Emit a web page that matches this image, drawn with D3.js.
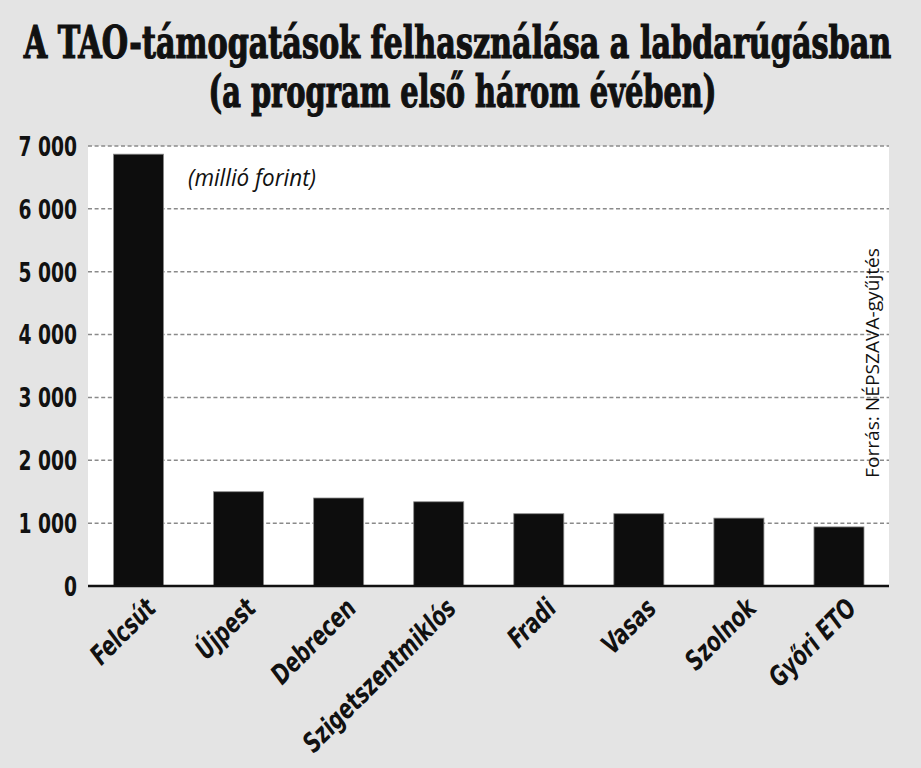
<!DOCTYPE html>
<html>
<head>
<meta charset="utf-8">
<script src="https://cdn.jsdelivr.net/npm/d3@7"></script>
<style>
  html, body { margin: 0; padding: 0; background: #e4e4e4; }
  svg { display: block; }
</style>
</head>
<body>
<svg id="chart" width="921" height="768"></svg>
<script>
const categories = ["Felcsút", "Újpest", "Debrecen", "Szigetszentmiklós", "Fradi", "Vasas", "Szolnok", "Győri ETO"];
const values = [6870, 1500, 1400, 1340, 1150, 1150, 1080, 940];
const yTicks = [0, 1000, 2000, 3000, 4000, 5000, 6000, 7000];
const yTickLabels = ["0", "1 000", "2 000", "3 000", "4 000", "5 000", "6 000", "7 000"];
const titleLines = ["A TAO-támogatások felhasználása a labdarúgásban", "(a program első három évében)"];
const unitLabel = "(millió forint)";
const sourceLabel = "Forrás: NÉPSZAVA-gyűjtés";

const W = 921, H = 768;
const plot = { left: 88, right: 889, top: 146, bottom: 586 };
const svg = d3.select("#chart");

svg.append("rect").attr("width", W).attr("height", H).attr("fill", "#e4e4e4");

svg.append("rect")
  .attr("x", plot.left).attr("y", plot.top)
  .attr("width", plot.right - plot.left).attr("height", plot.bottom - plot.top)
  .attr("fill", "#ffffff");

const x = d3.scaleBand().domain(categories).range([plot.left + 0.5, plot.right]).paddingInner(0.5).paddingOuter(0.25);
const y = d3.scaleLinear().domain([0, 7000]).range([plot.bottom, plot.top]);

// gridlines
svg.append("g").selectAll("line").data(yTicks.filter(d => d > 0)).join("line")
  .attr("x1", plot.left).attr("x2", plot.right)
  .attr("y1", d => y(d)).attr("y2", d => y(d))
  .attr("stroke", "#8a8a8a").attr("stroke-width", 1.5).attr("stroke-dasharray", "4,2.6");

// bars
svg.append("g").selectAll("rect").data(values).join("rect")
  .attr("x", (d, i) => x(categories[i]))
  .attr("y", d => y(d))
  .attr("width", x.bandwidth())
  .attr("height", d => y(0) - y(d))
  .attr("fill", "#0d0d0d")
  .attr("stroke", "#8a8a8a").attr("stroke-width", 0.8);

// baseline
svg.append("line")
  .attr("x1", plot.left).attr("x2", plot.right)
  .attr("y1", y(0)).attr("y2", y(0))
  .attr("stroke", "#111").attr("stroke-width", 2.6);

// y axis
const yAxis = d3.axisLeft(y).tickValues(yTicks).tickSize(0).tickPadding(0)
  .tickFormat((d, i) => yTickLabels[i]);
const yg = svg.append("g").attr("transform", `translate(${plot.left - 11},0)`).call(yAxis);
yg.select(".domain").remove();
yg.selectAll("text")
  .attr("font-family", "'DejaVu Sans Condensed', 'DejaVu Sans', sans-serif")
  .attr("font-weight", "bold")
  .attr("font-size", 26)
  .attr("fill", "#111")
  .attr("x", 0)
  .attr("dy", "0.36em")
  .attr("transform", "scale(0.8,1)");

// x axis
const xAxis = d3.axisBottom(x).tickSize(0).tickPadding(0);
const xg = svg.append("g").attr("transform", `translate(0,${plot.bottom})`).call(xAxis);
xg.select(".domain").remove();
xg.selectAll("text")
  .attr("font-family", "'DejaVu Sans Condensed', 'DejaVu Sans', sans-serif")
  .attr("font-weight", "bold")
  .attr("font-style", "italic")
  .attr("font-size", 27)
  .attr("fill", "#111")
  .attr("text-anchor", "end")
  .attr("y", 0).attr("dy", 0)
  .attr("transform", `translate(19,24) rotate(-45) scale(0.82,1)`);

// title (measured, then squeezed horizontally to the reference width)
const titleWidths = [868, 508];
const titleCenters = [457.5, 462.5];
const titleBaselines = [58, 107];
svg.append("g").selectAll("text").data(titleLines).join("text")
  .attr("x", 0).attr("y", 0)
  .attr("text-anchor", "middle")
  .attr("font-family", "'DejaVu Serif Condensed', 'DejaVu Serif', serif")
  .attr("font-weight", "bold")
  .attr("font-size", 44)
  .attr("fill", "#111")
  .attr("stroke", "#111").attr("stroke-width", 1.2)
  .text(d => d)
  .each(function(d, i) {
    const w = this.getComputedTextLength();
    const sx = titleWidths[i] / w;
    d3.select(this).attr("transform", `translate(${titleCenters[i]},${titleBaselines[i]}) scale(${sx},1)`);
  });

// unit label
svg.append("text")
  .attr("x", 188).attr("y", 186)
  .attr("font-family", "'Open Sans', sans-serif")
  .attr("font-style", "italic")
  .attr("font-size", 24)
  .attr("fill", "#111")
  .attr("textLength", 128).attr("lengthAdjust", "spacingAndGlyphs")
  .text(unitLabel);

// source
svg.append("text")
  .attr("transform", "translate(879,478) rotate(-90)")
  .attr("font-family", "'Open Sans', sans-serif")
  .attr("font-size", 18)
  .attr("fill", "#111")
  .attr("textLength", 230).attr("lengthAdjust", "spacingAndGlyphs")
  .text(sourceLabel);
</script>
</body>
</html>
